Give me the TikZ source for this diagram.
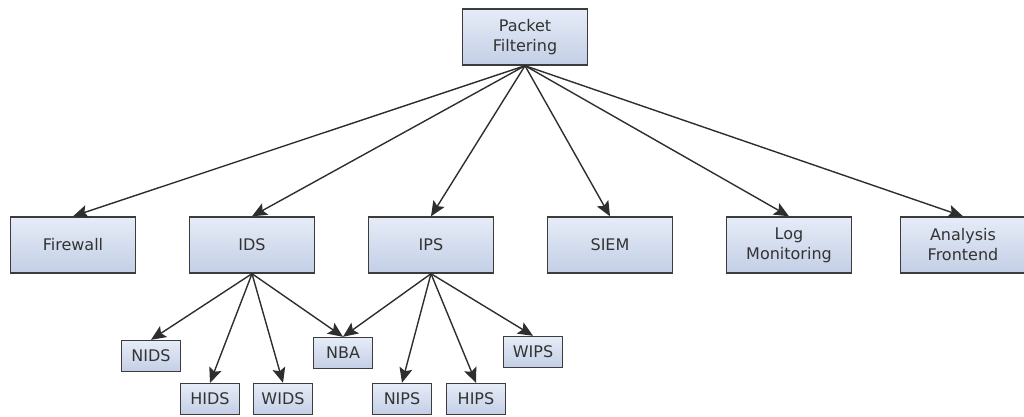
\documentclass[tikz,border=0pt]{standalone}
\usepackage{fontspec}
\setmainfont{DejaVu Sans}
\usetikzlibrary{positioning, arrows.meta}

\definecolor{boxtop}{HTML}{E6ECF7}
\definecolor{boxbot}{HTML}{C3CFE6}
\definecolor{boxline}{HTML}{3C3C3C}
\definecolor{wire}{HTML}{2E2E2E}

\begin{document}
\begin{tikzpicture}[x=1pt,y=-1pt,>={Stealth[length=15pt,width=13pt,inset=3pt]},font=\fontsize{16}{20}\selectfont]

	\tikzstyle{big}=[draw=boxline,line width=1.4pt,top color=boxtop,bottom color=boxbot,text=black!80,align=center,inner sep=0pt,minimum width=125pt,minimum height=56pt]
	\tikzstyle{small}=[big,minimum width=59pt,minimum height=31pt]
	\tikzstyle{link}=[->,draw=wire,line width=1.4pt]

	\useasboundingbox (0,0) rectangle (1024,416);

	\node[big] (pf) at (525,37) {Packet\\Filtering};

	\node[big] (fw) at (73,245) {Firewall};
	\node[big] (ids) at (252,245) {IDS};
	\node[big] (ips) at (431,245) {IPS};
	\node[big] (siem) at (610,245) {SIEM};
	\node[big] (log) at (789,245) {Log\\Monitoring};
	\node[big] (ana) at (963,245) {Analysis\\Frontend};

	\node[small] (nids) at (151,356) {NIDS};
	\node[small] (hids) at (210,399) {HIDS};
	\node[small] (wids) at (283,399) {WIDS};
	\node[small] (nba) at (343,353) {NBA};
	\node[small] (nips) at (402,399) {NIPS};
	\node[small] (hips) at (476,399) {HIPS};
	\node[small] (wips) at (533,352) {WIPS};

	\foreach \c in {fw,ids,ips,siem,log,ana}
		\draw[link] (pf.south) -- (\c.north);
	\foreach \c in {nids,hids,wids,nba}
		\draw[link] (ids.south) -- (\c.north);
	\foreach \c in {nba,nips,hips,wips}
		\draw[link] (ips.south) -- (\c.north);
\end{tikzpicture}
\end{document}
